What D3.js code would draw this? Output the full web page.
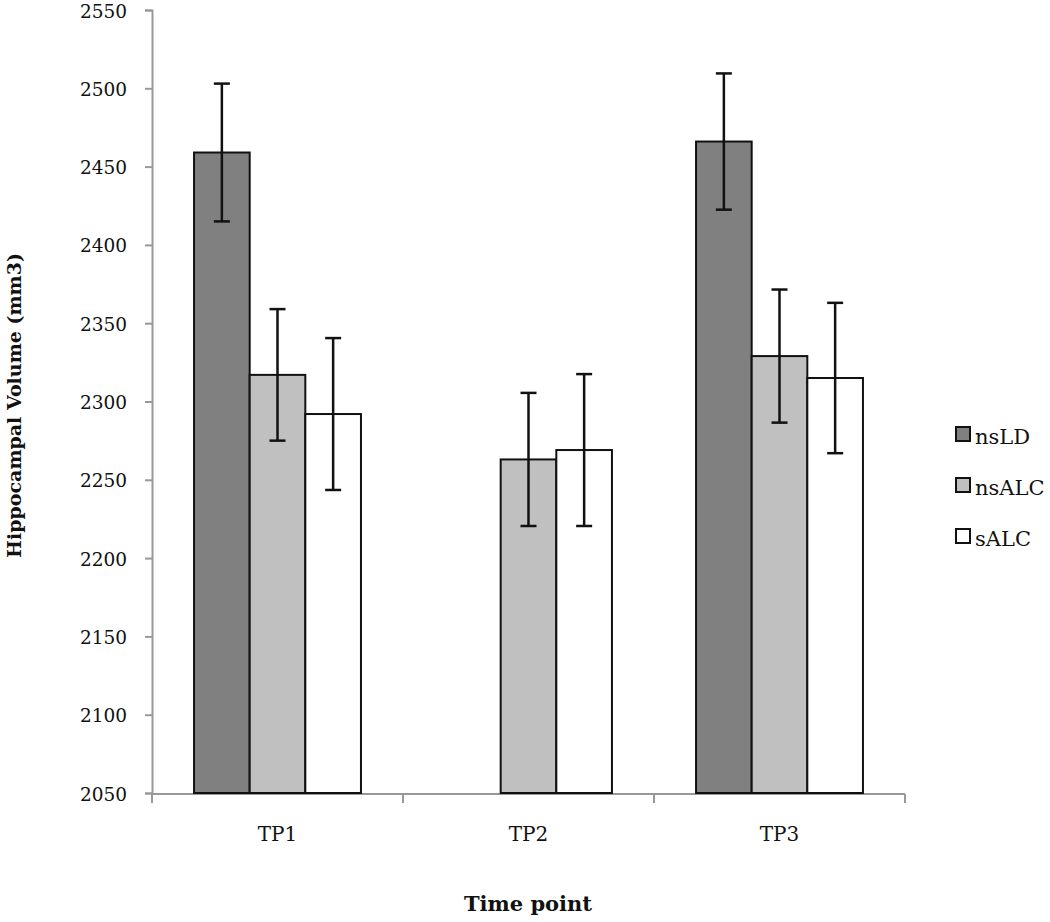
<!DOCTYPE html>
<html>
<head>
<meta charset="utf-8">
<script src="https://cdn.jsdelivr.net/npm/d3@7"></script>
<style>
  html, body { margin: 0; padding: 0; background: #fff; }
  svg { display: block; }
</style>
</head>
<body>
<svg id="chart" width="1050" height="922"></svg>
<script>
const categories = ["TP1", "TP2", "TP3"];
const seriesNames = ["nsLD", "nsALC", "sALC"];
const nsLD = [2459, null, 2466];
const nsALC = [2317, 2263, 2329];
const sALC = [2292, 2269, 2315];
const nsLDErr = [44, null, 43.5];
const nsALCErr = [42, 42.5, 42.5];
const sALCErr = [48.5, 48.5, 48];
const yTicks = [2050, 2100, 2150, 2200, 2250, 2300, 2350, 2400, 2450, 2500, 2550];
const colors = ["#808080", "#c0c0c0", "#ffffff"];

const values = [nsLD, nsALC, sALC];
const errs = [nsLDErr, nsALCErr, sALCErr];

const svg = d3.select("#chart");
const mLeft = 152, mRight = 905, mTop = 10, mBottom = 793;
const serif = "'DejaVu Serif', 'Liberation Serif', serif";

const x0 = d3.scaleBand().domain(categories).range([mLeft, mRight]).paddingInner(0).paddingOuter(0);
const bw = x0.bandwidth();
const x1 = d3.scaleBand().domain(seriesNames).range([bw * 0.1675, bw * 0.8325]).padding(0);
const y = d3.scaleLinear().domain([2050, 2550]).range([mBottom, mTop]);

const axisColor = "#999";

// Y axis
const yAxis = svg.append("g").attr("transform", `translate(${mLeft},0)`)
  .call(d3.axisLeft(y).tickValues(yTicks).tickSize(7).tickPadding(18).tickFormat(d3.format("d")));
yAxis.select(".domain").attr("stroke", axisColor).attr("stroke-width", 2);
yAxis.selectAll(".tick line").attr("stroke", axisColor).attr("stroke-width", 2);
yAxis.selectAll(".tick text").attr("font-family", serif).attr("font-size", 18.5).attr("fill", "#111")
  .attr("dy", "0.38em");

// X axis (ticks at band boundaries)
const xg = svg.append("g");
xg.append("line").attr("x1", mLeft).attr("x2", mRight).attr("y1", mBottom + 1).attr("y2", mBottom + 1)
  .attr("stroke", axisColor).attr("stroke-width", 2);
const boundaries = categories.map(c => x0(c)).concat([x0(categories[categories.length - 1]) + bw]);
xg.selectAll("line.tk").data(boundaries).enter().append("line").attr("class", "tk")
  .attr("x1", d => d).attr("x2", d => d).attr("y1", mBottom + 1).attr("y2", mBottom + 10)
  .attr("stroke", axisColor).attr("stroke-width", 2);
xg.selectAll("text").data(categories).enter().append("text")
  .attr("x", d => x0(d) + bw / 2).attr("y", 841)
  .attr("text-anchor", "middle").attr("font-family", serif).attr("font-size", 20).attr("fill", "#111")
  .text(d => d);

// Bars
const barData = [];
categories.forEach((c, ci) => {
  seriesNames.forEach((s, si) => {
    const v = values[si][ci];
    if (v != null) barData.push({ c, s, si, v, e: errs[si][ci] });
  });
});

const bars = svg.append("g");
bars.selectAll("rect").data(barData).enter().append("rect")
  .attr("x", d => x0(d.c) + x1(d.s))
  .attr("y", d => y(d.v))
  .attr("width", x1.bandwidth())
  .attr("height", d => y(2050) - y(d.v))
  .attr("fill", d => colors[d.si])
  .attr("stroke", "#111").attr("stroke-width", 2);

// Error bars
const eb = svg.append("g").attr("stroke", "#111").attr("stroke-width", 2.5);
barData.forEach(d => {
  const cx = x0(d.c) + x1(d.s) + x1.bandwidth() / 2;
  eb.append("line").attr("x1", cx).attr("x2", cx).attr("y1", y(d.v + d.e)).attr("y2", y(d.v - d.e));
  eb.append("line").attr("x1", cx - 8).attr("x2", cx + 8).attr("y1", y(d.v + d.e)).attr("y2", y(d.v + d.e));
  eb.append("line").attr("x1", cx - 8).attr("x2", cx + 8).attr("y1", y(d.v - d.e)).attr("y2", y(d.v - d.e));
});

// Legend
const legY = [435, 486, 537];
const leg = svg.append("g");
seriesNames.forEach((s, i) => {
  leg.append("rect").attr("x", 956).attr("y", legY[i] - 8).attr("width", 14).attr("height", 14)
    .attr("fill", colors[i]).attr("stroke", "#111").attr("stroke-width", 2);
  leg.append("text").attr("x", 975).attr("y", legY[i] + 9)
    .attr("font-family", serif).attr("font-size", 21).attr("fill", "#111").text(s);
});

// Axis titles
svg.append("text").attr("transform", `translate(21,${(mTop + mBottom) / 2 + 4}) rotate(-90)`)
  .attr("text-anchor", "middle").attr("font-family", serif).attr("font-weight", "bold")
  .attr("font-size", 19).attr("fill", "#111").text("Hippocampal Volume (mm3)");
svg.append("text").attr("x", 528).attr("y", 911).attr("text-anchor", "middle")
  .attr("font-family", serif).attr("font-weight", "bold").attr("font-size", 21).attr("fill", "#111")
  .text("Time point");
</script>
</body>
</html>
